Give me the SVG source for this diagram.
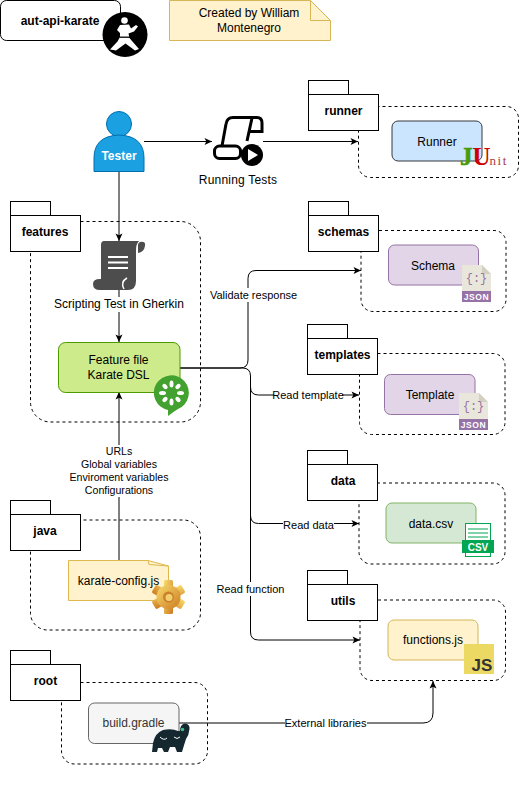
<svg xmlns="http://www.w3.org/2000/svg" width="520" height="792" viewBox="0 0 520 792">
<style>
text{font-family:"Liberation Sans",Arial,sans-serif;font-size:12px;fill:#000;text-anchor:middle}
.b{font-weight:bold}
.s{font-size:11px}
.u{font-size:10.600px}
.c{fill:none;stroke:#000;stroke-dasharray:3 3}
.f{fill:#fff;stroke:#000}
.w{fill:#fff;stroke:none}
.e{fill:none;stroke:#000;marker-end:url(#a)}
</style>
<defs>
<marker id="a" markerUnits="userSpaceOnUse" markerWidth="9" markerHeight="9" viewBox="0 0 9 9" refX="8.500" refY="4.500" orient="auto"><path d="M1 1L8.500 4.500L1 8L2.800 4.500Z" fill="#000"/></marker>
<linearGradient id="g" x1="0" y1="0" x2="1" y2="1"><stop offset="0" stop-color="#f9dc6e"/><stop offset="1" stop-color="#cc7a20"/></linearGradient>
<g id="folderShape"><rect class="f" x="0" y="0" width="40" height="14"/><rect class="f" x="0" y="14" width="70" height="36"/></g>
<g id="jsonIcon"><path d="M0 0H20L29 9V37H0Z" fill="#e9e7dc"/><path d="M20 0L29 9H20Z" fill="#d3d0c0"/><rect x="0" y="26" width="29" height="11" fill="#9673a6"/><text x="14.500" y="17" style="font-size:12px;fill:#9673a6;font-family:'Liberation Mono',monospace">{:}</text><text x="14.500" y="35" class="b" style="font-size:8.500px;fill:#fff;letter-spacing:.6px">JSON</text></g>
</defs>

<g id="containers">
<rect class="c" x="358.500" y="106.500" width="160" height="71" rx="12"/>
<rect class="c" x="361" y="230.500" width="145" height="81" rx="12"/>
<rect class="c" x="359.500" y="353.500" width="145.500" height="81" rx="12"/>
<rect class="c" x="359" y="483" width="146" height="81" rx="12"/>
<rect class="c" x="360" y="600" width="145.500" height="80.500" rx="12"/>
<rect class="c" x="30.500" y="221.500" width="170" height="200.500" rx="20"/>
<rect class="c" x="30.500" y="520" width="170" height="110" rx="17"/>
<rect class="c" x="61.500" y="682.500" width="146" height="81.500" rx="13"/>
</g>

<g id="connectors">
<path class="e" d="M144 141.500H212"/>
<path class="e" d="M263 141.500H358"/>
<path class="e" d="M119 171V241"/>
<path class="e" d="M119 290V342"/>
<path class="e" d="M119 560V392"/>
<path class="e" d="M180 368H240Q248 368 248 360V278.500Q248 270.500 256 270.500H361"/>
<path class="e" d="M180 368H242.500Q250.500 368 250.500 376V387Q250.500 395 258.500 395H359"/>
<path class="e" d="M250.500 376V515.500Q250.500 523.500 258.500 523.500H359"/>
<path class="e" d="M250.500 376V632Q250.500 640 258.500 640H360"/>
<path class="e" d="M179 723H423Q433 723 433 713V681"/>
<g id="edge-labels">
<rect class="w" x="209" y="288" width="89" height="14"/><text x="253.500" y="299" class="s">Validate response</text>
<rect class="w" x="274" y="388" width="68" height="14"/><text x="308" y="399" class="s">Read template</text>
<rect class="w" x="283" y="518" width="51" height="14"/><text x="308.500" y="529" class="s">Read data</text>
<rect class="w" x="216" y="582" width="70" height="14"/><text x="250.500" y="593" class="s">Read function</text>
<rect class="w" x="285" y="716" width="82" height="14"/><text x="325.500" y="727" class="s">External libraries</text>
<rect class="w" x="68" y="445" width="102" height="52"/>
<text x="119" y="455" class="u">URLs</text><text x="119" y="468" class="u">Global variables</text><text x="119" y="481" class="u">Enviroment variables</text><text x="119" y="494" class="u">Configurations</text>
</g>
</g>

<g id="title"><rect class="f" x="0.500" y="0.500" width="120" height="40" rx="6"/><text x="60" y="25" class="b">aut-api-karate</text></g>
<g id="karate-icon"><circle cx="125" cy="34.500" r="22.500" fill="#000"/>
<circle cx="124.500" cy="20.500" r="3.300" fill="#fff"/>
<path fill="#fff" d="M120 25L129 24.500L131 28.500L136 25L138 26.500L134 31.500L128.500 33.500L129.500 38L132 41L139 49L135 50.500L125.500 43.500L116 50.500L110 49.500L117.500 41.500L120 37L120 33L117 30Z"/>
<path d="M119.500 37.200H130" stroke="#000" stroke-width="1.300"/></g>
<g id="note"><path d="M169.500 0.500H310.500L330.500 20.500V40.500H169.500Z" fill="#fff2cc" stroke="#d6b656"/><path d="M310.500 0.500V20.500H330.500" fill="none" stroke="#d6b656"/><text x="249" y="17">Created by William</text><text x="249" y="32">Montenegro</text></g>

<g id="tester"><circle cx="119" cy="124" r="12.500" fill="#1ba1e2" stroke="#006eaf"/><path d="M94 171.500V158Q94 136 119 135Q144 136 144 158V171.500Z" fill="#1ba1e2" stroke="#006eaf"/><text x="119" y="160" class="b" style="fill:#fff">Tester</text></g>

<g id="running-tests">
<path d="M222 146L226 124Q227 117.500 233 117.500H257Q262 117.500 262 123V131.500H250M252 118L247 141" fill="none" stroke="#000" stroke-width="3"/>
<rect x="214.500" y="146" width="26" height="12.500" rx="5" fill="#fff" stroke="#000" stroke-width="3"/>
<circle cx="252" cy="155" r="11" fill="#000"/><path d="M248 149L258 155L248 161Z" fill="#fff"/>
<text x="238" y="184" style="letter-spacing:.2px">Running Tests</text></g>

<g id="runner"><use href="#folderShape" x="308.500" y="80.500"/><text x="343.500" y="115" class="b">runner</text>
<rect x="392" y="121" width="90" height="40" rx="6" fill="#cce5ff" stroke="#36393d"/><text x="437" y="146">Runner</text>
<text x="460" y="165" style="text-anchor:start;font-family:'Liberation Serif',serif;font-size:25px;font-weight:bold"><tspan style="fill:#4a9a0a;stroke:#4a9a0a;stroke-width:.6px">J</tspan><tspan style="fill:#cc0000" dx="0">U</tspan><tspan style="fill:#b03a3a;font-size:13px;font-weight:normal;letter-spacing:1.500px" dx="-1">nit</tspan></text></g>

<g id="schemas"><use href="#folderShape" x="308.500" y="201.500"/><text x="343.500" y="236" class="b">schemas</text>
<rect x="388.500" y="245" width="90" height="40" rx="6" fill="#e1d5e7" stroke="#9673a6"/><text x="433" y="270">Schema</text>
<use href="#jsonIcon" x="462" y="265"/></g>

<g id="templates"><use href="#folderShape" x="307.500" y="324.500"/><text x="342.500" y="359" class="b">templates</text>
<rect x="384.500" y="374.500" width="90.500" height="40" rx="6" fill="#e1d5e7" stroke="#9673a6"/><text x="430" y="399">Template</text>
<use href="#jsonIcon" x="459" y="393"/></g>

<g id="data"><use href="#folderShape" x="307.500" y="450.500"/><text x="343" y="485" class="b">data</text>
<rect x="386" y="503" width="90" height="40" rx="6" fill="#d5e8d4" stroke="#82b366"/><text x="431" y="528">data.csv</text>
<g id="csv-icon"><rect x="465.500" y="523.500" width="25" height="33" fill="#fff" stroke="#00a651"/><path d="M468 529H488M468 533H488M468 537H488" stroke="#00a651"/><rect x="462" y="540" width="32" height="13" fill="#00a651"/><text x="478" y="550.500" class="b" style="font-size:10px;fill:#fff">CSV</text></g></g>

<g id="utils"><use href="#folderShape" x="307.500" y="570.500"/><text x="343" y="605" class="b">utils</text>
<rect x="388" y="620" width="90" height="40" rx="6" fill="#fff2cc" stroke="#d6b656"/><text x="433" y="644">functions.js</text>
<rect x="464" y="644" width="30" height="30" fill="#ecd964"/><text x="482" y="671" class="b" style="font-size:17px;fill:#333">JS</text></g>

<g id="features"><use href="#folderShape" x="10.500" y="201.500"/><text x="45" y="236" class="b">features</text></g>
<g id="gherkin">
<path d="M104 241H139Q136 244 136 250V281Q136 290 128 290H100Q93 290 93 284Q93 279 100 279H101V245Q101 241 104 241Z" fill="#4d4d4d"/>
<path d="M140 242Q146 241 145 246Q144 252 138 253V245Q138 243 140 242Z" fill="#4d4d4d"/>
<path d="M108 257H128M108 262.500H128M108 268H128" stroke="#fff" stroke-width="2"/>
<path d="M127 278Q120 282 124 289" fill="none" stroke="#fff" stroke-width="1.500"/>
<rect class="w" x="52" y="297" width="134" height="15"/><text x="119" y="308">Scripting Test in Gherkin</text></g>
<g id="feature-file"><rect x="58.500" y="342.500" width="121.500" height="50" rx="7" fill="#cdeb8b" stroke="#4d9900"/><text x="118.500" y="364">Feature file</text><text x="118.500" y="379">Karate DSL</text>
<g id="cucumber"><path d="M168 412L168 410A17.500 17.500 0 1 1 178 409Q173 412 168 416Z" fill="#43a12f"/>
<g fill="#fff"><ellipse cx="171.500" cy="384" rx="2" ry="3.500"/><ellipse cx="171.500" cy="402" rx="2" ry="3.500"/><ellipse cx="162.500" cy="393" rx="3.500" ry="2"/><ellipse cx="180.500" cy="393" rx="3.500" ry="2"/><ellipse cx="165" cy="386.500" rx="3" ry="2" transform="rotate(45 165 386.500)"/><ellipse cx="178" cy="399.500" rx="3" ry="2" transform="rotate(45 178 399.500)"/><ellipse cx="178" cy="386.500" rx="3" ry="2" transform="rotate(-45 178 386.500)"/><ellipse cx="165" cy="399.500" rx="3" ry="2" transform="rotate(-45 165 399.500)"/></g></g></g>

<g id="java"><use href="#folderShape" x="10.500" y="500.500"/><text x="45" y="535" class="b">java</text></g>
<g id="karate-config"><path d="M68.500 560.500H148L168.500 566V600.500H68.500Z" fill="#fff2cc" stroke="#e0b94e"/><path d="M148 560.500L149 564.500L168.500 566" fill="none" stroke="#e0b94e"/><text x="118.500" y="585">karate-config.js</text>
<g id="gear"><g fill="url(#g)"><rect x="164" y="580" width="9" height="34" rx="1.500"/><rect x="164" y="580" width="9" height="34" rx="1.500" transform="rotate(60 168.500 597)"/><rect x="164" y="580" width="9" height="34" rx="1.500" transform="rotate(120 168.500 597)"/><circle cx="168.500" cy="597" r="12"/></g><circle cx="168.500" cy="597" r="5.500" fill="#c9822a"/><circle cx="169" cy="597.500" r="3.500" fill="#f3cf72"/></g></g>

<g id="root"><use href="#folderShape" x="10.500" y="650.500"/><text x="45.500" y="685" class="b">root</text></g>
<g id="build-gradle"><rect x="88.500" y="703" width="90.500" height="40.500" rx="6" fill="#f5f5f5" stroke="#666"/><text x="133.500" y="727" style="fill:#333">build.gradle</text>
<path id="gradle-elephant" fill="#15282f" d="M152 752L153 743Q155 733 163 730Q172 728 178 731L180 731Q180 724 185 723.500Q190 724 189.500 729Q189 735 186 739Q184 745 182 752H177L175 747L170 747L168 752H164L162 748L158 748L157 752Z"/><circle cx="182.500" cy="729.500" r="1.800" fill="#3fbf8f"/><path d="M160 737Q164 741 167 738M174 737Q177 740 180 737" fill="none" stroke="#fff"/></g>
</svg>
